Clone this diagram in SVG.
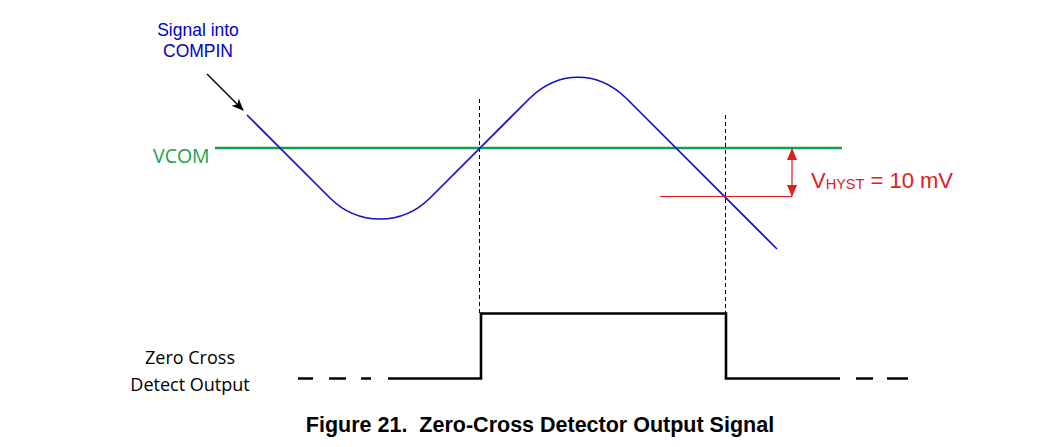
<svg xmlns="http://www.w3.org/2000/svg" width="1042" height="447" viewBox="0 0 1042 447">
<style>
.sig{fill:none;stroke:#1010c8;stroke-width:1.6}
.vcom{stroke:#12a04c;stroke-width:2.5}
.dash{stroke:#000;stroke-width:1;stroke-dasharray:4 3}
.red{stroke:#e02020;stroke-width:1.2;fill:none}
.out{fill:none;stroke:#000;stroke-width:2.6}
.cal{font-family:"Open Sans","Liberation Sans",sans-serif}
.ar{font-family:"Liberation Sans",Arial,sans-serif}
</style>
<defs>
<marker id="ah" markerWidth="12" markerHeight="10" refX="11" refY="5" orient="auto" markerUnits="userSpaceOnUse">
<path d="M0,0 L12,5 L0,10 L3,5 z" fill="#000"/>
</marker>
<marker id="rh" markerWidth="12" markerHeight="10" refX="11" refY="5" orient="auto" markerUnits="userSpaceOnUse">
<path d="M0,0 L12,5 L0,10 z" fill="#e02020"/>
</marker>
</defs>
<rect width="1042" height="447" fill="#fff"/>

<g id="vcom">
<line class="vcom" x1="215" y1="148" x2="842" y2="148"/>
<text class="cal" x="153" y="163" font-size="19.5" fill="#1a9f50">VCOM</text>
</g>

<g id="signal">
<path class="sig" d="M247,115 L330,198 C358,226 402,226 430,198 L529,99 C558,70 598,70 627,99 L777,249"/>
<text class="ar" font-size="17.5" fill="#0000cc" text-anchor="middle"><tspan x="198" y="36">Signal into</tspan><tspan x="198" y="57">COMPIN</tspan></text>
</g>

<g id="connectors">
<line x1="207" y1="74" x2="243" y2="110" stroke="#000" stroke-width="1.5" marker-end="url(#ah)"/>
<line class="dash" x1="479.5" y1="99" x2="479.5" y2="313"/>
<line class="dash" x1="725.5" y1="115" x2="725.5" y2="313"/>
</g>

<g id="hyst">
<line class="red" x1="660" y1="196.5" x2="792" y2="196.5"/>
<line class="red" x1="792" y1="172" x2="792" y2="149" marker-end="url(#rh)"/>
<line class="red" x1="792" y1="172" x2="792" y2="196" marker-end="url(#rh)"/>
<text class="ar" x="811" y="188" font-size="22" fill="#e02020">V<tspan font-size="14.5" dy="1">HYST</tspan><tspan dy="-1"> = 10 mV</tspan></text>
</g>

<g id="output">
<path class="out" d="M388,378.5 H481 V313.5 H726 V378.5 H840"/>
<path class="out" d="M298,378.5 H313 M329,378.5 H346 M361,378.5 H371 M856,378.5 H873 M887,378.5 H908"/>
<text class="cal" font-size="18" fill="#000" text-anchor="middle"><tspan x="190" y="364">Zero Cross</tspan><tspan x="190" y="391">Detect Output</tspan></text>
</g>

<text class="ar" x="540" y="432" font-size="21.5" font-weight="bold" text-anchor="middle" style="white-space:pre" fill="#000">Figure 21.  Zero-Cross Detector Output Signal</text>
</svg>
